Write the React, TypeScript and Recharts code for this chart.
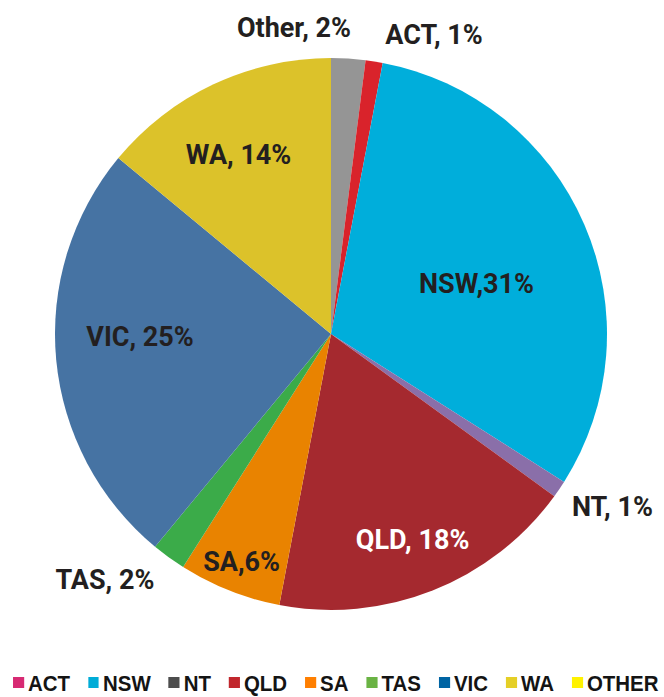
import React from 'react';
import { PieChart, Pie, Cell, Legend } from 'recharts';

// Slices, clockwise from 12 o'clock
const regions = ['Other', 'ACT', 'NSW', 'NT', 'QLD', 'SA', 'TAS', 'VIC', 'WA'];
const shares = [2, 1, 31, 1, 18, 6, 2, 25, 14];
const sliceLabels = ['Other, 2%', 'ACT, 1%', 'NSW,31%', 'NT, 1%', 'QLD, 18%', 'SA,6%', 'TAS, 2%', 'VIC, 25%', 'WA, 14%'];
const sliceColors = ['#959595', '#d9232b', '#00aedb', '#8a6fa9', '#a5292f', '#e98300', '#3bab49', '#4673a3', '#dcc22a'];

// Legend (its own order and swatch colours)
const legendNames = ['ACT', 'NSW', 'NT', 'QLD', 'SA', 'TAS', 'VIC', 'WA', 'OTHER'];
const legendColors = ['#d72a73', '#00acd7', '#4d4d4d', '#c1272d', '#ff7f00', '#6ab344', '#0064a3', '#e5cf26', '#fff200'];

// label placement: radius factor and angle shift (deg clockwise) relative to slice middle
const labelLayout: Record<string, { rf: number; shift: number; fill: string }> = {
  Other: { rf: 1.118, shift: -10.5, fill: '#231f20' },
  ACT: { rf: 1.146, shift: 10, fill: '#231f20' },
  NSW: { rf: 0.557, shift: 4.6, fill: '#231f20' },
  NT: { rf: 1.197, shift: -2.6, fill: '#231f20' },
  QLD: { rf: 0.803, shift: 0, fill: '#ffffff' },
  SA: { rf: 0.888, shift: -0.2, fill: '#231f20' },
  TAS: { rf: 1.21, shift: 6.6, fill: '#231f20' },
  VIC: { rf: 0.692, shift: 4.35, fill: '#231f20' },
  WA: { rf: 0.73, shift: -2.1, fill: '#231f20' },
};

const data = regions.map((name, i) => ({ name, value: shares[i] }));

const RAD = Math.PI / 180;
const SQUEEZE = 0.93; // legend type is slightly condensed

const renderLabel = (props: any) => {
  const { cx, cy, midAngle, outerRadius, index } = props;
  const name = regions[index];
  const lay = labelLayout[name];
  const ang = (midAngle - lay.shift) * RAD;
  const r = outerRadius * lay.rf;
  const x = cx + r * Math.cos(ang);
  const y = cy - r * Math.sin(ang);
  return (
    <text
      x={x}
      y={y}
      textAnchor="middle"
      dominantBaseline="central"
      fill={lay.fill}
      style={{ fontFamily: 'Roboto, sans-serif', fontWeight: 700, fontSize: 27 }}
    >
      {sliceLabels[index]}
    </text>
  );
};

const renderLegend = () => (
  <div
    style={{
      display: 'flex',
      gap: 18 / SQUEEZE,
      paddingLeft: 13 / SQUEEZE,
      transform: `scaleX(${SQUEEZE})`,
      transformOrigin: 'left top',
      fontFamily: '"Liberation Sans", Arial, sans-serif',
      fontWeight: 700,
      fontSize: 22,
      lineHeight: '18px',
      color: '#141414',
      whiteSpace: 'nowrap',
    }}
  >
    {legendNames.map((n, i) => (
      <div key={n} style={{ display: 'flex', alignItems: 'flex-start' }}>
        <span
          style={{
            width: 11 / SQUEEZE,
            height: 11,
            marginTop: 2,
            marginRight: 4 / SQUEEZE,
            background: legendColors[i],
            flex: 'none',
          }}
        />
        <span>{n}</span>
      </div>
    ))}
  </div>
);

export default function App() {
  return (
    <div style={{ width: 664, height: 697, position: 'relative', background: '#fff' }}>
      <style>{`body{margin:0}`}</style>
      <PieChart width={664} height={697} margin={{ top: 0, right: 0, bottom: 0, left: 0 }}>
        <Pie
          data={data}
          dataKey="value"
          nameKey="name"
          cx={331}
          cy={334}
          outerRadius={276}
          startAngle={90}
          endAngle={-270}
          stroke="none"
          labelLine={false}
          label={renderLabel}
          isAnimationActive={false}
        >
          {data.map((d, i) => (
            <Cell key={d.name} fill={sliceColors[i]} />
          ))}
        </Pie>
        <Legend
          content={renderLegend}
          wrapperStyle={{ position: 'absolute', left: 0, top: 675, width: 664, height: 18 }}
        />
      </PieChart>
    </div>
  );
}
